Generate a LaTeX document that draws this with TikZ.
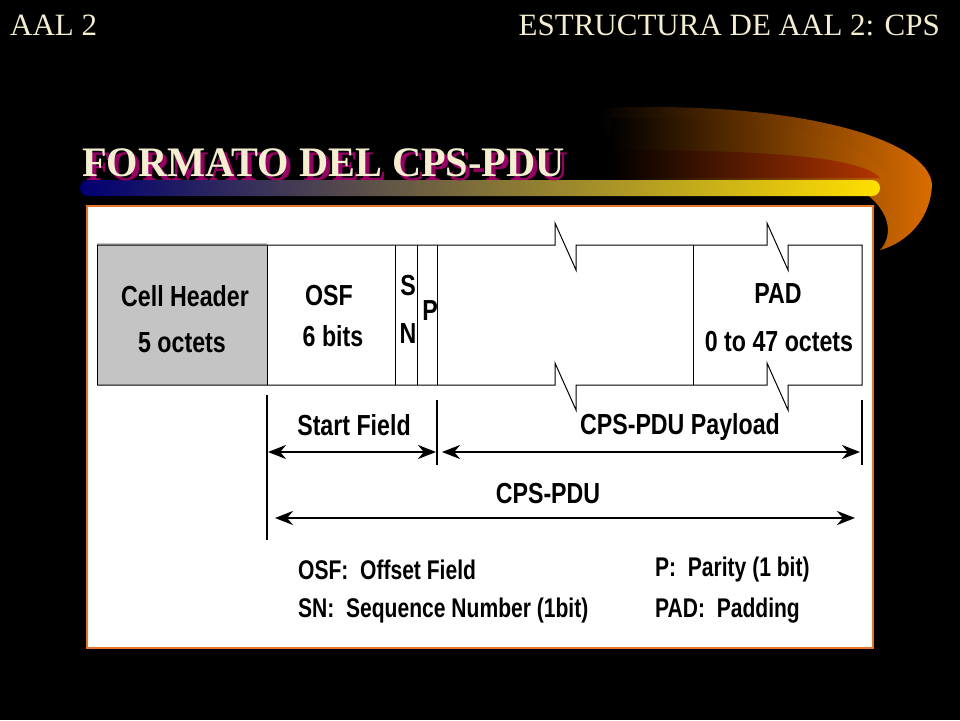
\documentclass[tikz,border=0pt]{standalone}
\usepackage{fontspec}
\setmainfont{Liberation Serif}
\newfontfamily\arial{Liberation Sans}
\usetikzlibrary{arrows.meta}
\definecolor{cream}{HTML}{F4EDCF}
\definecolor{frameor}{HTML}{E8762A}
\definecolor{cellgray}{HTML}{C4C4C4}
\begin{document}
\begin{tikzpicture}[x=1pt,y=-1pt,
  lbl/.style={font=\arial\bfseries\fontsize{29}{31}\selectfont,xscale=0.8,inner sep=0},
  leg/.style={font=\arial\bfseries\fontsize{27}{29}\selectfont,xscale=0.78,inner sep=0,anchor=west},
  box/.style={draw=black,line width=1pt},
  dim/.style={line width=2.6pt,{Stealth[length=18pt,width=14pt]}-{Stealth[length=18pt,width=14pt]}}]
\useasboundingbox (0,0) rectangle (960,720);
\fill[black] (0,0) rectangle (960,720);
% swoosh
\shade[left color=black,right color=orange!85!black,shading angle=90] (600,108) .. controls (800,100) and (930,140) .. (932,185) .. controls (930,225) and (900,245) .. (880,250) .. controls (900,230) and (905,150) .. (600,135) -- cycle;
\shade[left color=black,right color=orange!75!black] (610,118) .. controls (780,115) and (870,140) .. (885,175) -- (885,185) -- (610,185) -- cycle;
\shade[left color=black,right color=orange!60!red!70!black] (610,150) .. controls (750,150) and (860,155) .. (880,178) -- (610,178) -- cycle;
\shade[rounded corners=8pt,left color=blue!45!black,middle color=purple!70!red,right color=yellow!75!orange] (80,180) rectangle (880,196);
% header
\node[anchor=base west,text=cream,font=\fontsize{31}{34}\selectfont,inner sep=0] (h1) at (10,35) {AAL 2};
\node[anchor=base east,text=cream,font=\fontsize{31}{34}\selectfont,inner sep=0] (h2) at (940,35) {ESTRUCTURA DE AAL 2: CPS};
\node[anchor=base west,text=purple!80!blue,font=\bfseries\fontsize{42}{44}\selectfont,inner sep=0,xscale=0.96] (ts) at (86,180) {FORMATO DEL CPS-PDU};
\node[anchor=base west,text=cream,font=\bfseries\fontsize{42}{44}\selectfont,inner sep=0,xscale=0.96] (t) at (82,176) {FORMATO DEL CPS-PDU};
% panel
\draw[fill=white,draw=frameor,line width=2pt] (87,206) rectangle (873,648);
\fill[cellgray] (97,243) rectangle (267,385);
\draw[box] (97,245) -- (97,385);
\draw[box] (97,245) -- (555,245) -- (555,223) -- (576,270) -- (576,245) -- (767,245) -- (767,223) -- (788,270) -- (788,245) -- (862,245) -- (862,385)
  -- (788,385) -- (788,410) -- (767,363) -- (767,385) -- (576,385) -- (576,410) -- (555,363) -- (555,385) -- (97,385);
\draw[box] (267,245) -- (267,385);
\draw[box] (395,245) -- (395,385);
\draw[box] (417,245) -- (417,385);
\draw[box] (437,245) -- (437,385);
\draw[box] (693,245) -- (693,385);
\node[lbl] (ch1) at (185,296) {Cell Header};
\node[lbl] (ch2) at (182,343) {5 octets};
\node[lbl] (osf) at (329,296) {OSF};
\node[lbl] (bits) at (333,336) {6 bits};
\node[lbl] (s) at (408,286) {S};
\node[lbl] (n) at (408,334) {N};
\node[lbl] (p) at (430,311) {P};
\node[lbl] (pad) at (778,294) {PAD};
\node[lbl] (oct) at (779,342) {0 to 47 octets};
% dimension lines
\coordinate (a1) at (267,395); \coordinate (a2) at (267,540);
\coordinate (b1) at (437,400); \coordinate (b2) at (437,465);
\coordinate (c1) at (862,400); \coordinate (c2) at (862,465);
\draw[line width=1.5pt] (a1) -- (a2);
\draw[line width=1.5pt] (b1) -- (b2);
\draw[line width=1.5pt] (c1) -- (c2);
\coordinate (s1) at (268,452); \coordinate (s2) at (436,452);
\coordinate (p1) at (442,452); \coordinate (p2) at (860,452);
\coordinate (q1) at (275,518); \coordinate (q2) at (855,518);
\draw[dim] (s1) -- (s2);
\draw[dim] (p1) -- (p2);
\draw[dim] (q1) -- (q2);
\node[lbl] (sf) at (354,425) {Start Field};
\node[lbl] (pl) at (680,427) {CPS-PDU Payload};
\node[lbl] (pdu) at (548,494) {CPS-PDU};
% legend
\node[leg] (l1) at (298,570) {OSF:\ \ Offset Field};
\node[leg] (l2) at (298,611) {SN:\ \ Sequence Number (1bit)};
\node[leg] (l3) at (655,570) {P:\ \ Parity (1 bit)};
\node[leg] (l4) at (655,611) {PAD:\ \ Padding};
\end{tikzpicture}
\end{document}
